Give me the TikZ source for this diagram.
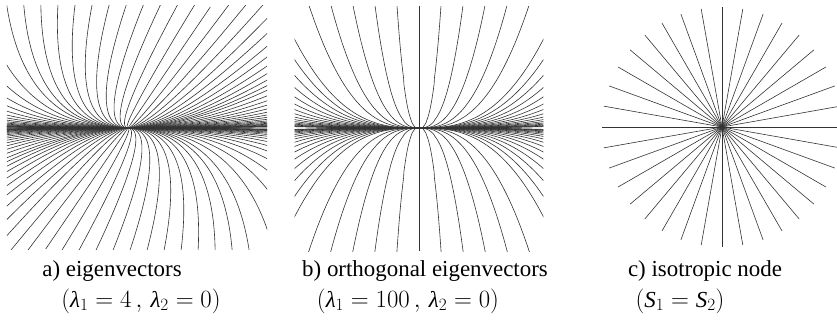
\documentclass[tikz,border=0pt]{standalone}
\usepackage{fontspec}
\setmainfont{Liberation Serif}
\usetikzlibrary{positioning}

\newcommand{\lam}{\mbox{\itshape λ}}
\newcommand{\ess}{\mbox{\itshape S}}

% four branches of one field line, c = curve constant
\newcommand{\fanlines}[1]{%
  \pgfmathsetmacro{\um}{min(\umax,(1.1/#1)^(1/\kk))}%
  \draw[fl] plot[domain=0.001:\um, samples=60, variable=\t] ({\t+\sh*#1*\t^\kk},{#1*\t^\kk});
  \draw[fl] plot[domain=0.001:\um, samples=60, variable=\t] ({-\t+\sh*#1*\t^\kk},{#1*\t^\kk});
  \draw[fl] plot[domain=0.001:\um, samples=60, variable=\t] ({\t-\sh*#1*\t^\kk},{-#1*\t^\kk});
  \draw[fl] plot[domain=0.001:\um, samples=60, variable=\t] ({-\t-\sh*#1*\t^\kk},{-#1*\t^\kk});
}

\begin{document}
\begin{tikzpicture}[x=1bp, y=-1bp,
    fl/.style={black!80, line width=0.6bp},
    caption/.style={font=\fontsize{23}{26}\selectfont, inner sep=0pt, anchor=base}]
  \useasboundingbox (0,0) rectangle (837,322);

  % a) eigenvectors
  \begin{scope}[shift={(128,128)}, x=121bp, y=121bp]
    \clip (-1,-1) rectangle (1.15,1.01);
    \def\sh{0.68}\def\kk{2}\def\umax{2.0}
    \draw[fl] (-\sh,-1) -- (\sh,1);
    \foreach \n in {1,...,12} {
      \pgfmathsetmacro{\cc}{(0.14*\n)^(-\kk)}
      \fanlines{\cc}
    }
    \foreach \j in {1,...,18} {
      \pgfmathsetmacro{\cc}{0.354*0.8^\j}
      \fanlines{\cc}
    }
  \end{scope}

  % b) orthogonal eigenvectors
  \begin{scope}[shift={(419,128)}, x=122bp, y=122bp]
    \clip (-1.02,-1.01) rectangle (1.02,1);
    \def\sh{0}\def\kk{2.7}\def\umax{1.1}
    \draw[fl] (0,-1.01) -- (0,1);
    \foreach \n in {1,...,5} {
      \pgfmathsetmacro{\cc}{(0.18*\n)^(-\kk)}
      \fanlines{\cc}
    }
    \foreach \j in {0,...,16} {
      \pgfmathsetmacro{\cc}{0.69*0.77^\j}
      \fanlines{\cc}
    }
  \end{scope}

  % c) isotropic node
  \coordinate (ctr) at (722,127);
  \foreach \a in {0,10,...,350}
    \draw[fl] (ctr) -- ++(\a:120);

  \node[caption] (capA) at (112,276) {a) eigenvectors};
  \node[caption] (parA) at (141,307) {$\Bigl(\lam_1 = 4\,,\, \lam_2 = 0\Bigr)$};
  \node[caption] (capB) at (425,276) {b) orthogonal eigenvectors};
  \node[caption] (parB) at (408,307) {$\Bigl(\lam_1 = 100\,,\, \lam_2 = 0\Bigr)$};
  \node[caption] (capC) at (705,276) {c) isotropic node};
  \node[caption] (parC) at (680,307) {$\bigl(\ess_1 = \ess_2\bigr)$};
\end{tikzpicture}
\end{document}
